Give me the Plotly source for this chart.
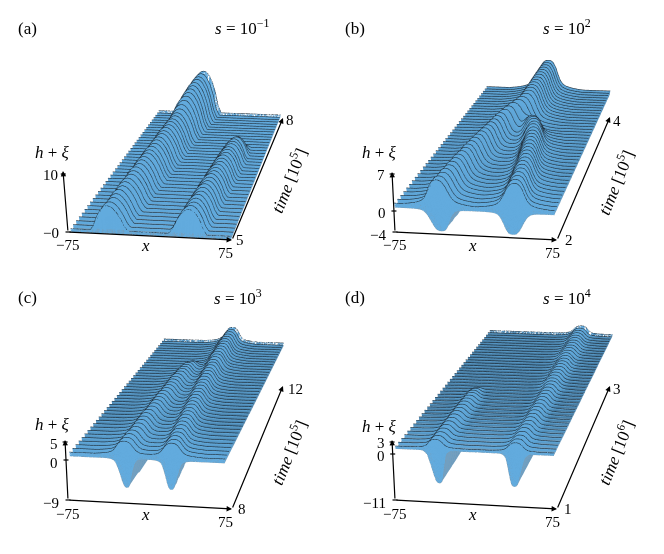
import numpy as np
import plotly.graph_objects as go

FONT = "Liberation Serif"
BLUE = (98, 171, 222)
DARK = (50, 88, 116)
SHEET = "#739fbf"

# offsets from a drop centre, in widths, and the drop outline (left half, mirrored)
half_u = [-2.5, -2.0, -1.6, -1.3, -1.1, -0.9, -0.7, -0.5, -0.3, -0.15, 0.0]
top_a = [0, 0, 0, 0, 0, .19, .51, .75, .91, .98, 1]
top_b = [0, .03, .07, .12, .18, .30, .52, .78, .94, .99, 1]
top_c = [0, .04, .08, .13, .20, .32, .55, .80, .95, .99, 1]
top_d = [0, .03, .06, .10, .17, .30, .55, .80, .95, .99, 1]
bot_a = [0, 0, 0, 0, 0, 0, 0, 0, 0, 0, 0]
bot_b = [0, 0, .01, .03, .08, .20, .45, .75, .95, .99, 1]
bot_c = [0, 0, 0, .01, .03, .07, .22, .52, .86, .98, 1]
bot_d = [0, 0, 0, .01, .05, .13, .38, .70, .93, .99, 1]

# panel (a)
a_lc = [-38,-38,-37,-37,-37,-36,-36,-36,-35,-35,-35,-34,-34,-34,-33,-33,-33,-32,-32,-32,-31,-31,-31,-30,-30,-30,-29,-29,-28,-28,-27,-27,-26,-26,-25,-25,-24,-24,-23,-22]
a_la = [.55,.55,.56,.56,.57,.57,.58,.58,.59,.59,.60,.60,.61,.61,.62,.62,.63,.63,.64,.64,.65,.65,.66,.66,.67,.67,.68,.69,.72,.76,.80,.84,.87,.90,.92,.94,.96,.97,.99,1.0]
a_lw = [16,16,16,16,16,16,17,17,17,17,17,17,17,18,18,18,18,18,18,18,18,19,19,19,19,19,19,19,20,20,20,21,21,21,21,22,22,22,22,22]
a_rc = [35,35,36,36,36,37,37,37,38,38,38,39,39,39,40,40,40,41,41,41,42,42,42,43,43,43,44,44,44,44,44,44,44,44,44,44,44,44,44,44]
a_ra = [.55,.55,.54,.54,.54,.53,.53,.53,.52,.52,.52,.51,.51,.51,.50,.50,.50,.49,.49,.48,.48,.47,.46,.44,.38,.26,.10,0,0,0,0,0,0,0,0,0,0,0,0,0]
a_rw = [16,16,16,16,16,16,16,16,16,16,16,16,16,16,16,16,16,16,16,16,16,16,15,15,14,13,12,12,12,12,12,12,12,12,12,12,12,12,12,12]

# panel (b)
b_lc = [-33,-33,-32,-32,-31,-31,-30,-30,-29,-28,-28,-27,-26,-25,-24,-23,-22,-21,-20,-19,-18,-16,-14,-11,-8,-5,-3,-2,-2,-2,-2,-2,-2,-2,-2,-2,-2,-2,-2,-2]
b_la = [.82,.82,.82,.82,.82,.82,.82,.82,.82,.82,.82,.82,.83,.83,.83,.83,.83,.83,.83,.84,.84,.85,.86,.88,.90,.93,.95,.97,.98,.98,.99,.99,.99,1,1,1,1,1,1,1]
b_lw = [14,14,14,14,14,14,14,14,14,14,14,14,14,14,14,14,14,14,14,14,14,15,15,16,17,18,18,18,18,18,18,18,18,18,18,18,18,18,18,18]
b_rc = [37,36,36,35,35,34,33,33,32,31,30,29,28,27,26,25,24,22,21,19,17,15,13,10,8,40,40,40,40,40,40,40,40,40,40,40,40,40,40,40]
b_ra = [.82,.82,.82,.82,.82,.82,.82,.82,.82,.82,.82,.82,.82,.82,.82,.82,.82,.82,.81,.80,.76,.68,.54,.34,.15,0,0,0,0,0,0,0,0,0,0,0,0,0,0,0]
b_rw = [14,14,14,14,14,14,14,14,14,14,14,14,14,14,14,14,14,14,14,14,14,14,14,13,12,12,12,12,12,12,12,12,12,12,12,12,12,12,12,12]

# panel (c)
c_lc = [-21,-21,-21,-21,-20,-20,-20,-20,-20,-20,-19,-19,-19,-19,-19,-19,-18,-18,-18,-18,-18,-18,-17,-17,-17,-17,-17,-16,-16,-16,-40,-40,-40,-40,-40,-40,-40,-40,-40,-40]
c_la = [.86,.86,.86,.86,.86,.86,.86,.86,.86,.86,.86,.86,.86,.86,.86,.85,.85,.85,.84,.84,.83,.82,.81,.79,.76,.72,.66,.55,.40,.18,0,0,0,0,0,0,0,0,0,0]
c_lw = [12,12,12,12,12,12,12,12,12,12,12,12,12,12,12,12,12,12,12,12,12,12,12,12,12,11,11,10,9,8,8,8,8,8,8,8,8,8,8,8]
c_rc = [24,24,23,23,22,22,21,21,20,20,19,19,18,18,17,17,16,16,15,15,14,14,14,13,13,13,12,12,12,11,11,11,11,11,10,10,10,10,10,10]
c_ra = [.86,.86,.86,.86,.86,.86,.87,.87,.87,.87,.87,.88,.88,.88,.89,.89,.89,.90,.90,.90,.91,.91,.92,.92,.93,.94,.94,.95,.96,.97,.98,.99,1,1,1,1,1,1,1,1]
c_rw = [12,12,12,12,12,12,12,12,12,12,12,12,12,12,12,12,12,12,12,12,12,12,12,12,12,12,12,13,13,13,13,13,13,13,13,13,13,13,13,13]

# panel (d)
d_lc = [-36,-36,-36,-36,-36,-36,-36,-36,-36,-36,-36,-36,-36,-36,-36,-37,-37,-37,-75,-75,-75,-75,-75,-75,-75,-75,-75,-75,-75,-75,-75,-75,-75,-75,-75,-75,-75,-75,-75,-75]
d_la = [1,1,.99,.99,.98,.98,.97,.96,.95,.93,.91,.89,.86,.82,.76,.66,.50,.25,0,0,0,0,0,0,0,0,0,0,0,0,0,0,0,0,0,0,0,0,0,0]
d_lw = [10,10,10,10,10,10,10,10,10,10,10,10,10,10,10,9,8,7,7,7,7,7,7,7,7,7,7,7,7,7,7,7,7,7,7,7,7,7,7,7]
d_rc = [39,39,39,39,39,39,39,39,39,39,39,39,39,39,39,39,39,39,39,38,38,38,38,38,38,38,38,38,37,37,37,37,37,37,37,36,36,36,36,36]
d_ra = [1,1,1,1,1,1,1,1,1,1,1,1,1,1,1,1,1,1,1,1,1,1,1,1,1,1,1,1,1,1,1,1,1,1,1,1,1,1,1,1]
d_rw = [10,10,10,10,10,10,10,10,10,10,10,10,10,10,10,10,10,10,11,11,11,11,11,11,11,11,11,11,11,12,12,12,12,12,12,12,12,12,12,12]

H = 440.0
FOCAL = (H / 2) / np.tan(np.pi / 8)
panels = [
    dict(tag="(a)", s="10<sup>−1</sup>", lc=a_lc, la=a_la, lw=a_lw, rc=a_rc, ra=a_ra, rw=a_rw, top=top_a, bot=bot_a,
         film=0.6, sub=0.1, hgt=7.0, dep=0.0, t=[5, 8], z=[0, 10], zv=[0, 10], exp="5", xs=0.98, shade=0.1,
         dom=((0, 332), (0, H)), box=(165, 123, 238, 115, 150, 219),
         frame=((68, 232), (232, 240), (283, 118), (63, 171)), zticks=[232, 174],
         labels=[("−0", 51, 233), ("10", 50, 175), ("−75", 67, 245), ("75", 225, 253), ("5", 240, 240), ("8", 290, 120)],
         tagxy=(27, 28), sxy=(242, 27), hxy=(52, 152), xxy=(145, 245), txy=(288, 180)),
    dict(tag="(b)", s="10<sup>2</sup>", lc=b_lc, la=b_la, lw=b_lw, rc=b_rc, ra=b_ra, rw=b_rw, top=top_b, bot=bot_b,
         film=1.0, sub=0.3, hgt=4.8, dep=4.5, t=[2, 4], z=[-4, 7], zv=[-4, 0, 7], exp="5", xs=0.96, shade=0.5,
         dom=((332, 664), (0, H)), box=(160, 123, 238, 115, 475, 546),
         frame=((395, 232), (557, 240), (610, 117), (392, 172)), zticks=[232, 211, 174],
         labels=[("−4", 378, 235), ("0", 382, 213), ("7", 381, 175), ("−75", 394, 245), ("75", 552, 253), ("2", 569, 240), ("4", 617, 121)],
         tagxy=(355, 28), sxy=(567, 27), hxy=(379, 152), xxy=(472, 245), txy=(615, 182)),
    dict(tag="(c)", s="10<sup>3</sup>", lc=c_lc, la=c_la, lw=c_lw, rc=c_rc, ra=c_ra, rw=c_rw, top=top_c, bot=bot_c,
         film=1.5, sub=0.7, hgt=3.0, dep=7.0, t=[8, 12], z=[-9, 5], zv=[-9, 0, 5], exp="5", xs=0.89, shade=0.8,
         dom=((0, 332), (554 - H, 554)), box=(163, 126, 507, 385, 148, 220),
         frame=((68, 500), (232, 509), (283, 386), (65, 440)), zticks=[500, 460, 442],
         labels=[("−9", 51, 503), ("0", 54, 463), ("5", 54, 444), ("−75", 67, 514), ("75", 225, 522), ("8", 242, 509), ("12", 295, 389)],
         tagxy=(27, 297), sxy=(238, 297), hxy=(52, 424), xxy=(145, 514), txy=(288, 452)),
    dict(tag="(d)", s="10<sup>4</sup>", lc=d_lc, la=d_la, lw=d_lw, rc=d_rc, ra=d_ra, rw=d_rw, top=top_d, bot=bot_d,
         film=0.6, sub=0.1, hgt=1.6, dep=6.6, t=[1, 3], z=[-11, 3], zv=[-11, 0, 3], exp="6", xs=0.90, shade=0.8,
         dom=((332, 664), (554 - H, 554)), box=(162, 126, 507, 383, 476, 547),
         frame=((395, 500), (557, 509), (610, 386), (392, 440)), zticks=[500, 454, 442],
         labels=[("−11", 374, 503), ("0", 381, 456), ("3", 381, 443), ("−75", 394, 514), ("75", 552, 522), ("1", 568, 509), ("3", 617, 389)],
         tagxy=(355, 297), sxy=(567, 297), hxy=(379, 426), xxy=(472, 514), txy=(615, 452)),
]


def solve_view(box, dom, f, tilt=8.0, zpx=61.0):
    """Camera and box proportions that put the floor of a panel where it sits on the page."""
    wf, wb, yf, yb, xf, xb = box
    cx = (dom[0][0] + dom[0][1]) / 2
    cy = (dom[1][0] + dom[1][1]) / 2
    Df = f / wf
    Db = f / wb
    Yf = (cy - yf) * Df / f
    Yb = (cy - yb) * Db / f
    S, C = Yb - Yf, Db - Df
    th = np.arctan2(S, C)
    L = np.hypot(S, C)
    s = tilt / (f * (np.sin(th) / Df - Yf * np.cos(th) / Df ** 2))
    ch = np.sqrt(1 - s * s)
    h = (zpx / f) / (np.cos(th) / Df + Yf * np.sin(th) / Df ** 2)
    Xf = (xf - cx) * Df / f
    Xb = (xb - cx) * Db / f
    skew = (Xb - Xf - L * s) * 150
    R = np.array([ch, s, 0])
    U = np.array([-s * np.sin(th), ch * np.sin(th), np.cos(th)])
    F = np.array([-s * np.cos(th), ch * np.cos(th), -np.sin(th)])
    G = np.array([0, 0, -h / 2])
    D0 = (Df + Db) / 2
    E = G - (Xf + Xb) / 2 * R - (Yf + Yb) / 2 * U - D0 * F
    Ce = E + D0 * F
    return E, Ce, L, h, skew


def rgb(mix):
    return "rgb(%d,%d,%d)" % tuple(int(BLUE[j] + (DARK[j] - BLUE[j]) * mix) for j in range(3))


x_grid = np.arange(-75, 75.5, 1.5)
fig = go.Figure()
layout = {}
annotations = []
shapes = []
afont = dict(family=FONT, size=17, color="black")
flat = dict(ambient=1, diffuse=0, specular=0, roughness=1, fresnel=0)


def paper(px, py):
    return px / 664, 1 - py / 554


for i, p in enumerate(panels, start=1):
    sc = "scene" if i == 1 else f"scene{i}"
    eye, cen, L, h, SKEW = solve_view(p["box"], p["dom"], FOCAL)
    n = len(p["lc"])
    t0, t1 = p["t"]
    z0, z1 = p["z"]
    times = np.linspace(t0, t1, n)
    u = np.array(half_u + [-v for v in half_u[-2::-1]])
    ts = np.array(p["top"] + p["top"][-2::-1], float)
    bs = np.array(p["bot"] + p["bot"][-2::-1], float)
    vx, vy, vz, vc, fi, fj, fk = [], [], [], [], [], [], []
    lx, ly, lz = [], [], []
    sx, sy, sz, si, sj, sk = [], [], [], [], [], []
    m = len(x_grid)
    front_bot = None
    for k in range(n):
        top = np.full(m, p["film"])
        bot = np.full(m, p["sub"])
        for c, a, w in ((p["lc"][k], p["la"][k], p["lw"][k]), (p["rc"][k], p["ra"][k], p["rw"][k])):
            rel = (x_grid - c) / w
            top = top + a * p["hgt"] * np.interp(rel, u, ts)
            bot = bot - a * p["dep"] * np.interp(rel, u, bs)
        xs = x_grid * p["xs"] + SKEW * k / (n - 1)
        base = len(vx)
        vx += list(xs) * 2
        vy += [times[k]] * (2 * m)
        vz += list(top) + list(bot)
        dark = min(1.0, k / 10) * p["shade"]
        vc += [rgb(0)] * m + [rgb(dark)] * m
        for q in range(m - 1):
            fi += [base + q, base + q + 1]
            fj += [base + q + 1, base + m + q + 1]
            fk += [base + m + q, base + m + q]
        lx += list(xs) + [None]
        ly += [times[k]] * m + [None]
        lz += list(top) + [None]
        sbase = len(sx)
        sx += list(xs)
        sy += [times[k]] * m
        sz += list(bot)
        if k > 0:
            for q in range(m - 1):
                a0 = sbase - m + q
                b0 = sbase + q
                si += [a0, a0 + 1]
                sj += [a0 + 1, b0 + 1]
                sk += [b0, b0]
        if k == 0:
            front_bot = (list(xs), [times[0]] * m, list(bot))
    fig.add_trace(go.Mesh3d(x=sx, y=sy, z=sz, i=si, j=sj, k=sk, color=SHEET, opacity=1.0, flatshading=True,
                            lighting=flat, hoverinfo="skip", scene=sc))
    fig.add_trace(go.Mesh3d(x=vx, y=vy, z=vz, i=fi, j=fj, k=fk, vertexcolor=vc, opacity=1.0, flatshading=True,
                            lighting=flat, hoverinfo="skip", scene=sc))
    fig.add_trace(go.Scatter3d(x=front_bot[0], y=front_bot[1], z=front_bot[2], mode="lines",
                               line=dict(color="#7d99ad", width=1.2), hoverinfo="skip", showlegend=False, scene=sc))
    fig.add_trace(go.Scatter3d(x=lx, y=ly, z=lz, mode="lines", line=dict(color="#1d2a35", width=1.2),
                               hoverinfo="skip", showlegend=False, scene=sc))
    blank = dict(showgrid=False, zeroline=False, showbackground=False, showspikes=False, showline=False,
                 showticklabels=False, ticks="", title=dict(text=""))
    layout[sc] = dict(
        domain=dict(x=[p["dom"][0][0] / 664, p["dom"][0][1] / 664],
                    y=[1 - p["dom"][1][1] / 554, 1 - p["dom"][1][0] / 554]),
        aspectmode="manual", aspectratio=dict(x=(150 + SKEW) / 150, y=L, z=h),
        camera=dict(eye=dict(x=eye[0], y=eye[1], z=eye[2]), center=dict(x=cen[0], y=cen[1], z=cen[2]),
                    up=dict(x=0, y=0, z=1)),
        xaxis=dict(range=[-75, 75 + SKEW], tickvals=[-75, 75], **blank),
        yaxis=dict(range=p["t"], tickvals=p["t"], **blank),
        zaxis=dict(range=p["z"], tickvals=p["zv"], **blank),
    )
    for xy, text, angle in ((p["tagxy"], p["tag"], 0), (p["sxy"], "<i>s</i> = " + p["s"], 0),
                            (p["hxy"], "<i>h</i> + <i>ξ</i>", 0), (p["xxy"], "<i>x</i>", 0),
                            (p["txy"], f"<i>time</i> [10<sup>{p['exp']}</sup>]", -68)):
        px_, py_ = paper(*xy)
        annotations.append(dict(x=px_, y=py_, xref="paper", yref="paper", text=text, showarrow=False,
                                xanchor="center", yanchor="middle", textangle=angle, font=afont))
    for text, lx_, ly_ in p["labels"]:
        px_, py_ = paper(lx_, ly_)
        annotations.append(dict(x=px_, y=py_, xref="paper", yref="paper", text=text, showarrow=False,
                                xanchor="center", yanchor="middle", font=dict(family=FONT, size=15, color="black")))
    o, xe, te, ze = p["frame"]
    for start, end in ((o, xe), (xe, te), (o, ze)):
        hx, hy = paper(*end)
        annotations.append(dict(x=hx, y=hy, xref="paper", yref="paper", ax=start[0] - end[0], ay=start[1] - end[1],
                                axref="pixel", ayref="pixel", text="", showarrow=True, arrowhead=2, arrowsize=0.9,
                                arrowwidth=1.2, arrowcolor="black", standoff=0, startstandoff=0))
    for yv in p["zticks"]:
        frac = (o[1] - yv) / (o[1] - ze[1])
        xv = o[0] + (ze[0] - o[0]) * frac
        x0_, y0_ = paper(xv - 2.5, yv)
        x1_, y1_ = paper(xv + 2.5, yv)
        shapes.append(dict(type="line", xref="paper", yref="paper", x0=x0_, y0=y0_, x1=x1_, y1=y1_,
                           line=dict(color="black", width=1.2)))

fig.update_layout(width=664, height=554, margin=dict(l=0, r=0, t=0, b=0), paper_bgcolor="white",
                  showlegend=False, annotations=annotations, shapes=shapes, **layout)
fig.write_html("out.html", post_script="document.body.style.margin='0';", config=dict(displayModeBar=False))
